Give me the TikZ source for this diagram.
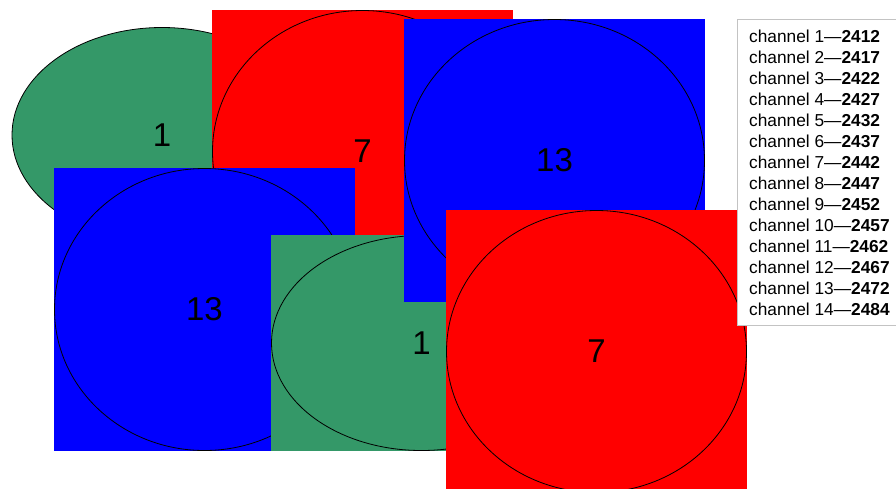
\documentclass[tikz,border=0pt]{standalone}
\usepackage{fontspec}
\setmainfont{Liberation Sans}
\usetikzlibrary{shapes.geometric}
\definecolor{chgreen}{RGB}{52,152,104}
\definecolor{chred}{RGB}{255,0,0}
\definecolor{chblue}{RGB}{0,0,255}
\definecolor{legborder}{RGB}{195,195,195}
\begin{document}
\begin{tikzpicture}[x=1pt,y=-1pt,
  sq/.style={rectangle, draw=none, inner sep=0pt, outer sep=0pt,
    minimum width=301pt, minimum height=283pt},
  ell/.style={ellipse, draw=black, line width=0.8pt, inner sep=0pt, outer sep=0pt,
    minimum width=300pt, minimum height=282pt,
    font=\fontsize{33}{36}\selectfont},
  gsq/.style={sq, minimum height=216pt},
  gell/.style={ell, minimum height=215pt},
  legbox/.style={rectangle, draw=legborder, fill=white, line width=1pt,
    inner sep=0pt, outer sep=0pt, anchor=north west,
    minimum width=180pt, minimum height=306pt},
  legtext/.style={anchor=base west, inner sep=0pt,
    font=\fontsize{17.3}{20}\selectfont}]
\useasboundingbox (0,0) rectangle (896,488);
\clip (0,0) rectangle (896,488);
% green top-left (ellipse only)
\node[gell, fill=chgreen] (g1e) at (162,135) {1};
% red top
\node[sq, fill=chred] (r1s) at (362.5,151.5) {};
\node[ell, fill=chred] (r1e) at (362.5,151.5) {7};
% blue bottom-left
\node[sq, fill=chblue] (b2s) at (204.5,309.5) {};
\node[ell, fill=chblue] (b2e) at (204.5,309.5) {13};
% green bottom
\node[gsq, fill=chgreen] (g2s) at (421.5,343) {};
\node[gell, fill=chgreen] (g2e) at (421.5,343) {1};
% blue top-right
\node[sq, fill=chblue] (b1s) at (554.5,160.5) {};
\node[ell, fill=chblue] (b1e) at (554.5,160.5) {13};
% red bottom-right
\node[sq, fill=chred] (r2s) at (596.5,351.5) {};
\node[ell, fill=chred] (r2e) at (596.5,351.5) {7};
% legend
\node[legbox] (leg) at (737.5,19.5) {};
\foreach \i/\f in {1/2412,2/2417,3/2422,4/2427,5/2432,6/2437,7/2442,
                   8/2447,9/2452,10/2457,11/2462,12/2467,13/2472,14/2484}{
  \node[legtext] (ch\i) at (749,{42.3+21*(\i-1)})
    {channel \i\textemdash\textbf{\f}};
}
\end{tikzpicture}
\end{document}
